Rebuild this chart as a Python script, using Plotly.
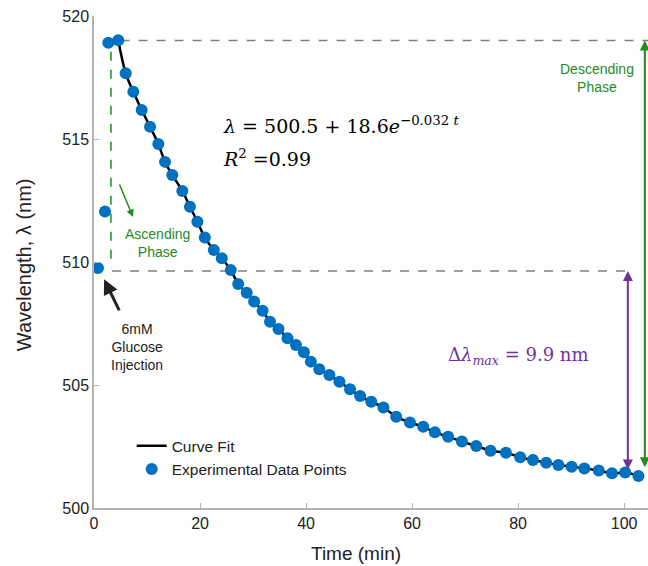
import plotly.graph_objects as go

# ---- data ----
time_min = [0.75, 2.08, 2.7, 4.58, 5.98, 7.42, 9.0, 10.57, 12.13, 13.4, 14.77, 16.66,
            18.1, 19.5, 20.9, 22.6, 24.1, 25.8, 27.2, 28.8, 30.2, 31.8, 33.2, 34.8,
            36.5, 38.1, 39.6, 40.9, 42.5, 44.4, 46.3, 48.3, 50.2, 52.3, 54.6, 57.0,
            59.6, 62.1, 64.3, 66.8, 69.4, 72.1, 74.8, 77.7, 80.4, 82.8, 85.3, 87.6,
            90.1, 92.5, 95.2, 97.7, 100.2, 102.7]
wavelength_nm = [509.76, 512.05, 518.91, 519.01, 517.67, 516.92, 516.18, 515.50, 514.80,
                 514.07, 513.54, 512.89, 512.25, 511.64, 511.00, 510.49, 510.15, 509.67,
                 509.11, 508.75, 508.39, 508.02, 507.57, 507.28, 506.90, 506.63, 506.33,
                 505.95, 505.64, 505.41, 505.13, 504.83, 504.55, 504.32, 504.09, 503.71,
                 503.48, 503.30, 503.08, 502.90, 502.70, 502.52, 502.33, 502.25, 502.06,
                 501.95, 501.84, 501.75, 501.68, 501.61, 501.52, 501.41, 501.44, 501.30]
fit_start_index = 3          # curve fit drawn from the peak onwards

x_ticks = [0, 20, 40, 60, 80, 100]
y_ticks = [500, 505, 510, 515, 520]

peak_level = 519.0
base_level = 509.63
min_level = 501.5

GREEN = "#1e8c1e"
PURPLE = "#7030a0"
BLUE = "#0070c0"
GRAY = "#7f7f7f"
AXIS = "#b4b4b4"
SANS = "Arial, Liberation Sans, sans-serif"
SERIF = "DejaVu Serif, serif"

fig = go.Figure()

# reference lines
fig.add_trace(go.Scatter(x=[5.0, 104.5], y=[peak_level, peak_level], mode="lines",
                         line=dict(color=GRAY, width=1.5, dash="dash"),
                         showlegend=False, hoverinfo="skip"))
fig.add_trace(go.Scatter(x=[3.4, 100.2], y=[base_level, base_level], mode="lines",
                         line=dict(color=GRAY, width=1.5, dash="dash"),
                         showlegend=False, hoverinfo="skip"))
fig.add_trace(go.Scatter(x=[3.2, 3.2], y=[518.55, 509.76], mode="lines",
                         line=dict(color=GREEN, width=1.5, dash="dash"),
                         showlegend=False, hoverinfo="skip"))

# curve fit
fig.add_trace(go.Scatter(x=time_min[fit_start_index:], y=wavelength_nm[fit_start_index:],
                         mode="lines", name="Curve Fit",
                         line=dict(color="black", width=2.5, shape="spline", smoothing=1.0)))
# data points
fig.add_trace(go.Scatter(x=time_min, y=wavelength_nm, mode="markers",
                         name="Experimental Data Points",
                         marker=dict(color=BLUE, size=12)))

ann = []
# Ascending small arrow
ann.append(dict(x=7.36, y=511.83, ax=4.7, ay=513.21, xref="x", yref="y", axref="x", ayref="y",
                text="", showarrow=True, arrowhead=2, arrowsize=1, arrowwidth=1.5, arrowcolor=GREEN))
ann.append(dict(x=11.9, y=510.79, xref="x", yref="y", text="Ascending<br>Phase", showarrow=False,
                font=dict(family=SANS, size=14, color=GREEN), align="center"))
# injection arrow
ann.append(dict(x=1.9, y=509.3, ax=4.9, ay=507.97, xref="x", yref="y", axref="x", ayref="y",
                text="", showarrow=True, arrowhead=2, arrowsize=1, arrowwidth=3, arrowcolor="#222222"))
ann.append(dict(x=8.1, y=506.55, xref="x", yref="y", text="6mM<br>Glucose<br>Injection",
                showarrow=False, font=dict(family=SANS, size=14, color="#222222"), align="center"))
# Descending phase
ann.append(dict(x=103.9, y=peak_level, ax=103.9, ay=501.6, xref="x", yref="y", axref="x", ayref="y",
                text="", showarrow=True, arrowhead=2, startarrowhead=2, arrowside="end+start",
                arrowsize=1, arrowwidth=2, arrowcolor=GREEN))
ann.append(dict(x=94.8, y=517.5, xref="x", yref="y", text="Descending<br>Phase", showarrow=False,
                font=dict(family=SANS, size=14, color=GREEN), align="center"))
# delta lambda
ann.append(dict(x=100.7, y=base_level, ax=100.7, ay=min_level, xref="x", yref="y", axref="x", ayref="y",
                text="", showarrow=True, arrowhead=2, startarrowhead=2, arrowside="end+start",
                arrowsize=1, arrowwidth=2, arrowcolor=PURPLE))
ann.append(dict(x=80.0, y=506.18, xref="x", yref="y",
                text="Δ<i>λ</i><sub><i>max</i></sub> = 9.9 nm", showarrow=False,
                font=dict(family=SERIF, size=18, color=PURPLE)))
# equation
ann.append(dict(x=24.0, y=515.57, xref="x", yref="y", xanchor="left",
                text="<i>λ</i> = 500.5 + 18.6<i>e</i><sup>−0.032 <i>t</i></sup>", showarrow=False,
                font=dict(family=SERIF, size=19, color="black")))
ann.append(dict(x=24.0, y=514.23, xref="x", yref="y", xanchor="left",
                text="<i>R</i><sup>2</sup> =0.99", showarrow=False,
                font=dict(family=SERIF, size=19, color="black")))
# axis titles
ann.append(dict(x=0.473, y=-0.0915, xref="paper", yref="paper", xanchor="center", yanchor="middle",
                text="Time (min)", showarrow=False,
                font=dict(family=SANS, size=19, color="#222222")))
ann.append(dict(x=-0.126, y=0.494, xref="paper", yref="paper", xanchor="center", yanchor="middle",
                text="Wavelength, λ (nm)", showarrow=False, textangle=-90,
                font=dict(family=SANS, size=20, color="#222222")))

fig.update_layout(
    width=648, height=566,
    margin=dict(l=94, r=0, t=16, b=58),
    paper_bgcolor="white", plot_bgcolor="white",
    annotations=ann,
    legend=dict(x=0.068, y=0.16, xanchor="left", yanchor="top", bgcolor="rgba(0,0,0,0)",
                font=dict(family=SANS, size=15.5, color="#222222"), tracegroupgap=0),
    font=dict(family=SANS),
)
fig.update_xaxes(range=[0, 104.5], tickvals=x_ticks, showgrid=False, zeroline=False,
                 showline=True, linecolor=AXIS, linewidth=1.5, ticks="inside", ticklen=5,
                 tickcolor=AXIS, tickfont=dict(family=SANS, size=16, color="#222222"))
fig.update_yaxes(range=[500, 520], tickvals=y_ticks, showgrid=False, zeroline=False,
                 showline=True, linecolor=AXIS, linewidth=1.5, ticks="inside", ticklen=5,
                 tickcolor=AXIS, tickfont=dict(family=SANS, size=16, color="#222222"))

# remove the default page margin so the figure sits at the window's top-left corner
fig.write_html("out.html",
               config={"displayModeBar": False},
               post_script="document.body.style.margin='0';"
                           "document.body.style.overflow='hidden';"
                           "document.documentElement.style.overflow='hidden';")
